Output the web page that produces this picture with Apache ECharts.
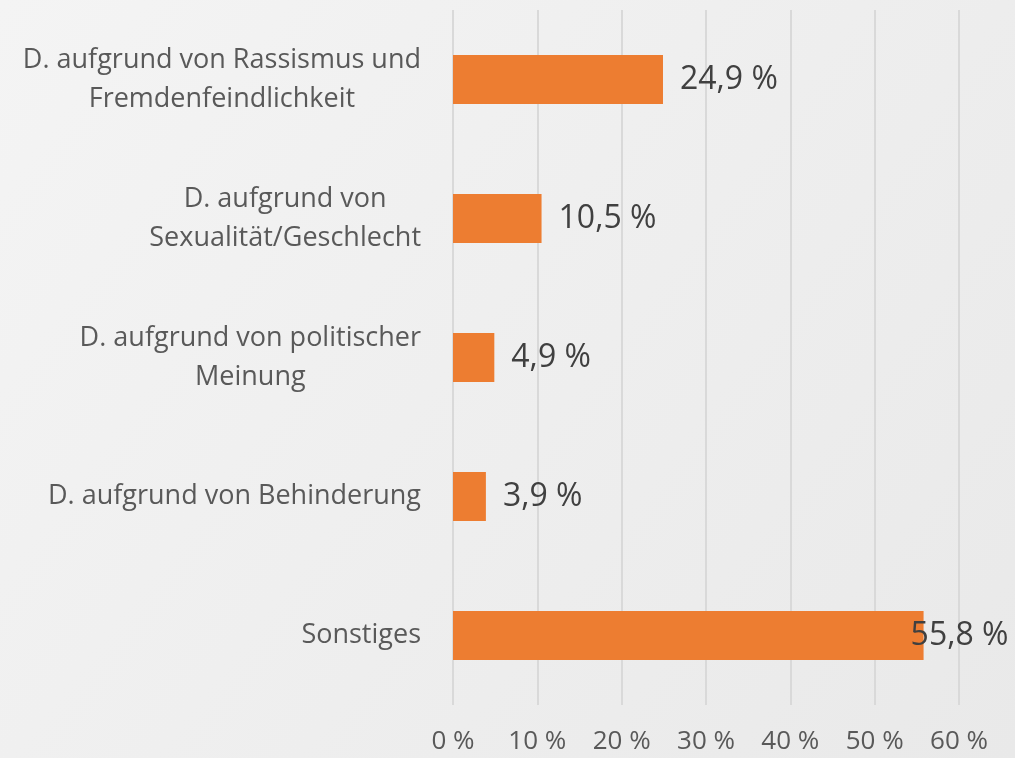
<!DOCTYPE html>
<html>
<head>
    <meta charset="utf-8">
    <title>Diskriminierung</title>
    <script src="https://cdn.jsdelivr.net/npm/echarts@6/dist/echarts.min.js"></script>
    <style>
        html, body { margin: 0; padding: 0; }
        #main { width: 1015px; height: 758px; }
    </style>
</head>
<body>
    <div id="main"></div>
    <script type="text/javascript">
        // categories (top to bottom) and shares in percent
        var categories = [
            'D. aufgrund von Rassismus und\nFremdenfeindlichkeit',
            'D. aufgrund von\nSexualität/Geschlecht',
            'D. aufgrund von politischer\nMeinung',
            'D. aufgrund von Behinderung',
            'Sonstiges'
        ];
        var values = [24.9, 10.5, 4.9, 3.9, 55.8];

        var axisMin = 0;
        var axisMax = 60;
        var axisStep = 10;

        var font = '"Open Sans", "Noto Sans", sans-serif';

        var myChart = echarts.init(document.getElementById('main'), null, { renderer: 'canvas' });

        var barData = values.map(function (v, i) {
            var item = { value: v };
            // last label is pulled back so it fits inside the plot, like the original
            if (i === values.length - 1) {
                item.label = { offset: [-30, 0] };
            }
            return item;
        });

        var option = {
            backgroundColor: new echarts.graphic.LinearGradient(0, 0, 1, 1, [
                { offset: 0, color: '#f4f4f4' },
                { offset: 1, color: '#e9e9e9' }
            ]),
            animation: false,
            grid: {
                left: 453,
                right: 56,
                top: 10,
                bottom: 53,
                containLabel: false,
                outerBoundsMode: 'none'
            },
            xAxis: {
                type: 'value',
                min: axisMin,
                max: axisMax,
                interval: axisStep,
                axisLine: { show: false },
                axisTick: { show: false },
                splitLine: { show: true, lineStyle: { color: '#d9d9d9', width: 2 } },
                axisLabel: {
                    margin: 24,
                    fontSize: 26,
                    fontFamily: font,
                    color: '#595959',
                    formatter: '{value} %'
                }
            },
            yAxis: {
                type: 'category',
                inverse: true,
                data: categories,
                axisLine: { show: false },
                axisTick: { show: false },
                axisLabel: {
                    margin: 32,
                    fontSize: 27,
                    fontFamily: font,
                    color: '#595959',
                    formatter: function (val) {
                        return val.split('\n').map(function (line) {
                            return '{c|' + line + '}';
                        }).join('\n');
                    },
                    rich: {
                        c: {
                            align: 'center',
                            fontSize: 27,
                            fontFamily: font,
                            color: '#595959',
                            lineHeight: 39
                        }
                    }
                }
            },
            series: [
                {
                    type: 'bar',
                    data: barData,
                    barWidth: 49,
                    itemStyle: { color: '#ED7D31' },
                    label: {
                        show: true,
                        position: 'right',
                        distance: 17,
                        fontSize: 32,
                        fontFamily: font,
                        color: '#404040',
                        formatter: function (p) {
                            return p.value.toFixed(1).replace('.', ',') + ' %';
                        }
                    }
                }
            ]
        };

        myChart.setOption(option);
    </script>
</body>
</html>
